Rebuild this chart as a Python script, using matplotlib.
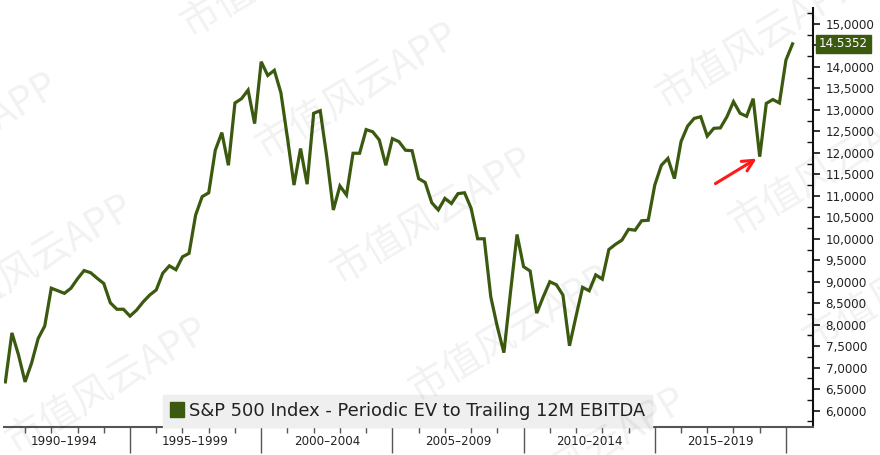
import numpy as np
import matplotlib
matplotlib.use("Agg")
import matplotlib.pyplot as plt
from matplotlib.ticker import MultipleLocator, FixedLocator
from matplotlib.patches import Patch
import matplotlib.transforms as mtransforms

# quarterly S&P 500 EV / trailing 12M EBITDA, 1990Q1 .. 2020Q1
ev_ebitda = [
    6.67, 7.81, 7.30, 6.67, 7.11, 7.68, 7.97, 8.85, 8.79, 8.73,
    8.85, 9.07, 9.26, 9.21, 9.08, 8.96, 8.51, 8.36, 8.36, 8.20,
    8.34, 8.53, 8.69, 8.81, 9.20, 9.37, 9.28, 9.58, 9.66, 10.55,
    10.98, 11.07, 12.06, 12.47, 11.71, 13.16, 13.26, 13.46, 12.68, 14.12,
    13.80, 13.92, 13.40, 12.35, 11.25, 12.10, 11.27, 12.92, 12.98, 11.90,
    10.67, 11.23, 11.02, 11.99, 11.99, 12.54, 12.49, 12.30, 11.71, 12.33,
    12.26, 12.06, 12.05, 11.40, 11.31, 10.84, 10.67, 10.94, 10.82, 11.05,
    11.07, 10.71, 10.00, 10.00, 8.65, 7.95, 7.35, 8.75, 10.10, 9.35,
    9.25, 8.27, 8.65, 9.00, 8.93, 8.69, 7.51, 8.20, 8.87, 8.79,
    9.16, 9.06, 9.75, 9.87, 9.97, 10.22, 10.20, 10.42, 10.43, 11.25,
    11.71, 11.87, 11.40, 12.26, 12.62, 12.80, 12.84, 12.39, 12.57, 12.58,
    12.84, 13.19, 12.92, 12.85, 13.26, 11.91, 13.15, 13.24, 13.16, 14.16,
    14.5352,
]
start_year = 1990
period_labels = ["1990\u20131994", "1995\u20131999", "2000\u20132004",
                 "2005\u20132009", "2010\u20132014", "2015\u20132019"]
legend_label = "S&P 500 Index - Periodic EV to Trailing 12M EBITDA"
last_value = ev_ebitda[-1]

green = "#3b5a0f"
quarter_end = start_year + np.arange(1, len(ev_ebitda) + 1) / 4

fig = plt.figure(figsize=(8.8, 4.55), dpi=100)
ax = fig.add_axes([4 / 880, 1 - 427 / 455, 809 / 880, 419 / 455])

ax.plot(quarter_end, ev_ebitda, color=green, lw=2.3, solid_joinstyle="miter", zorder=3)

ax.set_xlim(1990.198, 2021.03)
ax.set_ylim(5.62, 15.37)

# y axis on the right; the 14.5 label sits under the last-value tag
ax.yaxis.tick_right()
yt = np.arange(6, 15.01, 0.5)
ax.set_yticks(yt)
ax.set_yticklabels(["" if v == 14.5 else f"{v:.4f}".replace(".", ",") for v in yt])
ax.yaxis.set_minor_locator(MultipleLocator(0.25))
ax.tick_params(axis="y", which="major", length=5, width=1.2, pad=4,
               labelsize=8.6, labelcolor="#222222", color="#111111")
ax.tick_params(axis="y", which="minor", length=4, width=1, direction="in",
               color="#111111", right=True, left=False)

# x axis: 5-year separators, yearly minor ticks, labels in between
ax.xaxis.set_major_locator(FixedLocator(np.arange(1995, 2021, 5)))
ax.xaxis.set_minor_locator(FixedLocator(np.arange(1991, 2021, 1)))
ax.tick_params(axis="x", which="major", length=19, width=1, color="#555555", labelbottom=False)
ax.tick_params(axis="x", which="minor", length=4, width=1, color="#555555")
sec = ax.secondary_xaxis("bottom")
sec.set_xticks(np.arange(1992.5, 2020, 5))
sec.set_xticklabels(period_labels)
sec.tick_params(length=0, pad=6, labelsize=8.6, labelcolor="#222222")
sec.spines["bottom"].set_visible(False)

for s in ["top", "left"]:
    ax.spines[s].set_visible(False)
ax.spines["bottom"].set_color("#555555")
ax.spines["bottom"].set_linewidth(1.5)
ax.spines["right"].set_color("#111111")
ax.spines["right"].set_linewidth(1.5)

# legend
leg = ax.legend(handles=[Patch(facecolor=green, edgecolor=green, label=legend_label)],
                loc="lower left", bbox_to_anchor=(159 / 809, 0.0), borderaxespad=0,
                fontsize=12.9, frameon=True, fancybox=False, framealpha=1,
                handlelength=0.75, handleheight=0.85, handletextpad=0.3,
                borderpad=0.4)
leg.get_frame().set_facecolor("#efefef")
leg.get_frame().set_edgecolor("#efefef")
for t in leg.get_texts():
    t.set_color("#222222")

# last value tag
trans = mtransforms.blended_transform_factory(ax.transAxes, ax.transData)
ax.text(1.0074, last_value, f"{last_value:.4f}", transform=trans, ha="left", va="center",
        fontsize=8.6, color="white", clip_on=False,
        bbox=dict(boxstyle="square,pad=0.22", facecolor=green, edgecolor=green))

# red arrow pointing at the Q4 2018 dip
ax.annotate("", xy=(2018.97, 11.90), xytext=(2017.22, 11.25),
            arrowprops=dict(arrowstyle="->", color="#ff1a1a", lw=2.2, mutation_scale=20),
            zorder=5)

# watermark
marks = [(-140, 200), (-65, 322), (10, 445), (185, 28), (260, 150), (335, 275),
         (413, 393), (488, 515), (585, -22), (660, 100), (733, 227), (807, 343)]
for px, py in marks:
    fig.text(px / 880, 1 - py / 455, "市值风云APP", rotation=31, rotation_mode="anchor",
             ha="left", va="center", fontsize=28, color="black", alpha=0.055,
             family=["Noto Sans CJK SC", "DejaVu Sans"], zorder=10)

fig.savefig("out.png", dpi=100)
